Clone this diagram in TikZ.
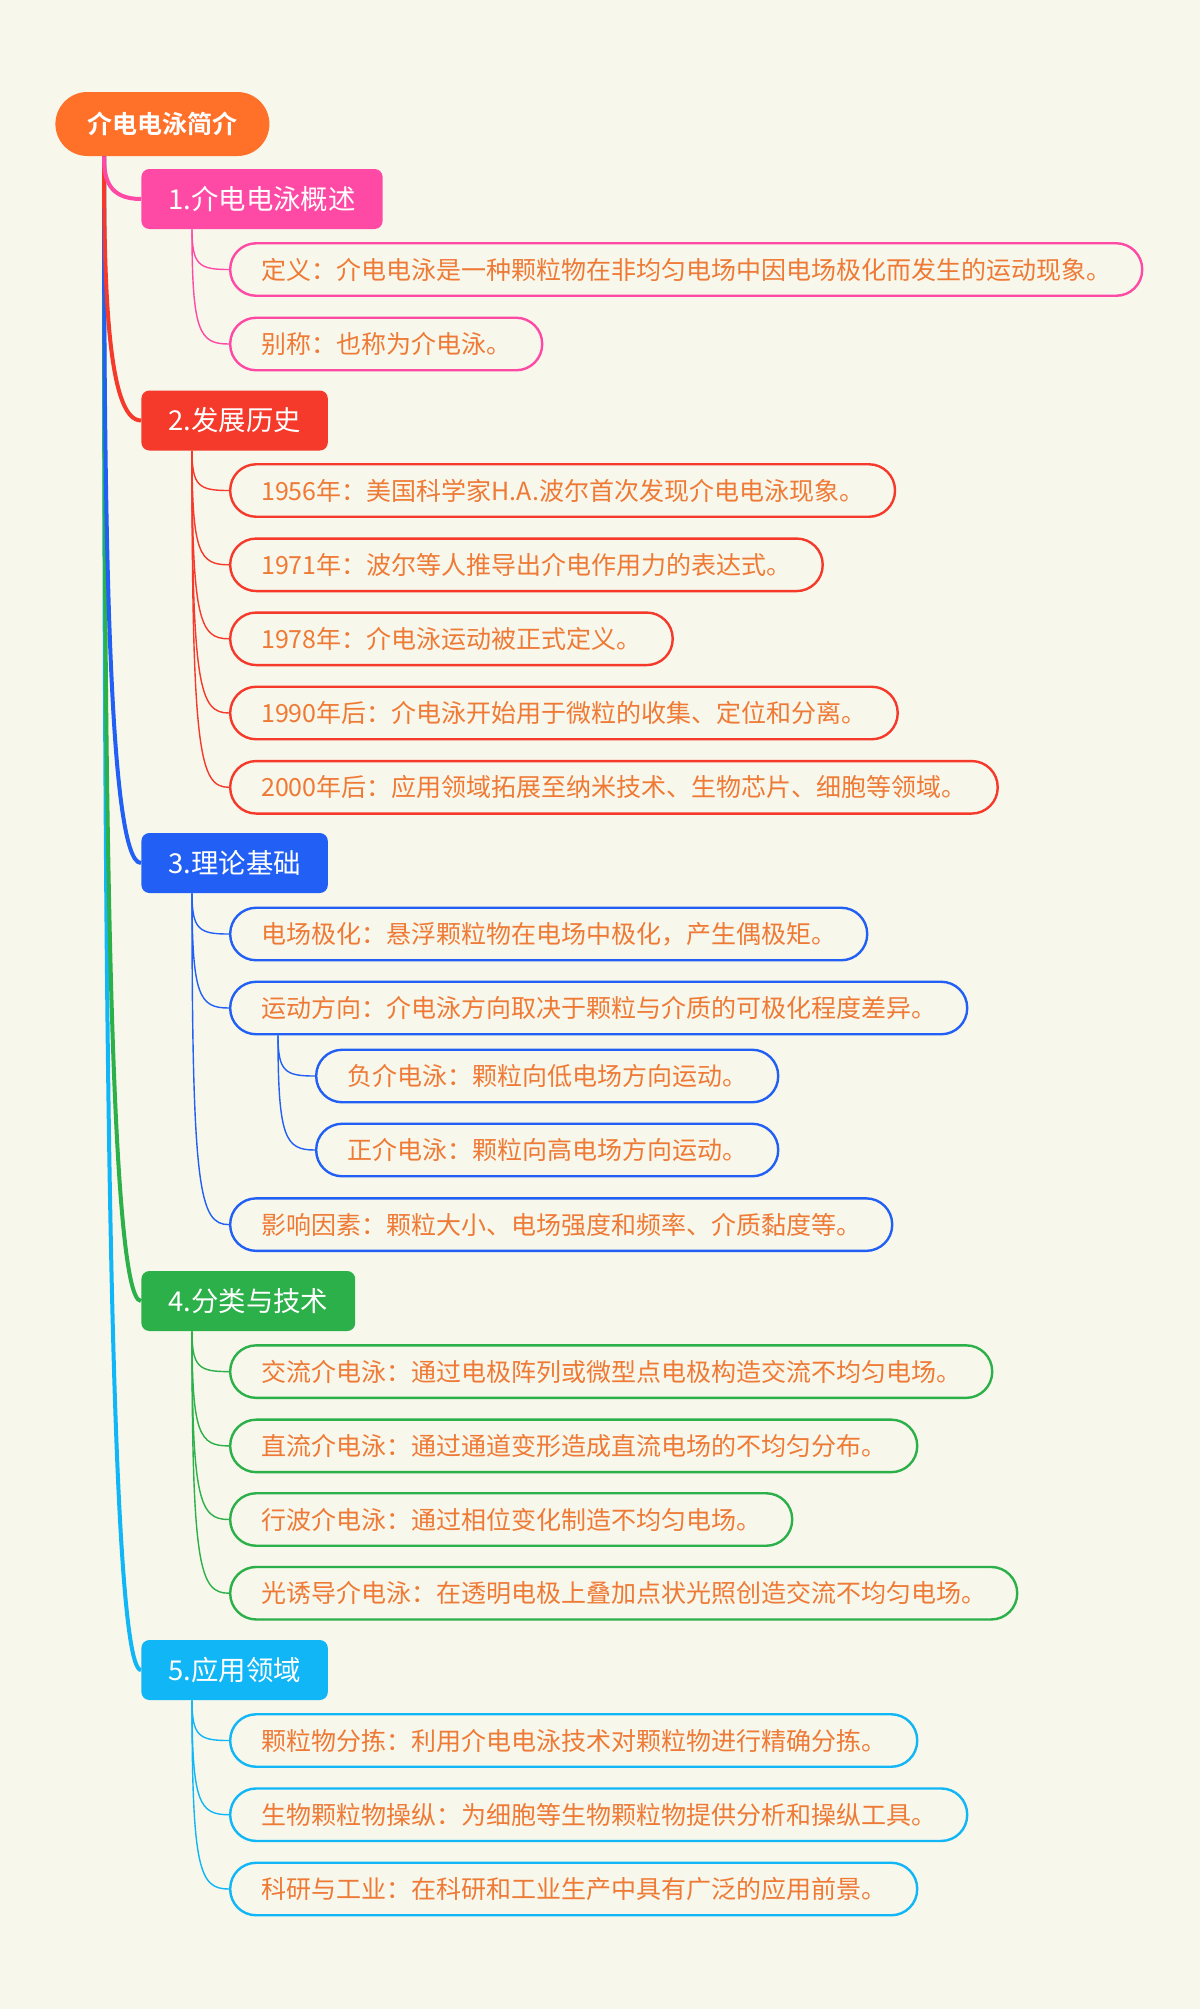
\documentclass[tikz,border=0pt]{standalone}
\usepackage{fontspec}
\setmainfont{Noto Sans CJK SC}[BoldFont={Noto Sans CJK SC Bold}]
\usepackage{xcolor}
\usetikzlibrary{calc}

\definecolor{bgc}{HTML}{F7F7EB}
\definecolor{rootc}{HTML}{FF7029}
\definecolor{pinkc}{HTML}{FF4AA5}
\definecolor{redc}{HTML}{F5392B}
\definecolor{bluec}{HTML}{2260F5}
\definecolor{greenc}{HTML}{2BB04A}
\definecolor{cyanc}{HTML}{10B6F5}
\definecolor{leaftext}{HTML}{EF7A36}

\begin{document}
\begin{tikzpicture}[
  x=0.5pt, y=-0.5pt,
  every node/.style={font=\fontsize{12.5pt}{15pt}\selectfont},
  rootbox/.style={fill=rootc, text=white, rounded corners=16pt,
    minimum height=32pt, inner xsep=16pt, anchor=west,
    font=\fontsize{12.5pt}{15pt}\selectfont\bfseries},
  topicbox/.style={fill=#1, text=white, rounded corners=4pt,
    minimum height=30pt, inner xsep=13.5pt, anchor=west,
    font=\fontsize{13.7pt}{16pt}\selectfont},
  leafbox/.style={draw=#1, line width=1.2pt, fill=bgc, text=leaftext,
    rounded corners=13pt, minimum height=26.25pt, inner xsep=15.5pt, anchor=west},
  branch/.style={draw=#1, line width=2pt},
  twig/.style={draw=#1, line width=0.7pt},
]

%% ── Canvas ────────────────────────────────────────────────────────────────
\fill[bgc] (0,0) rectangle (1200,2009);

%% ── Root and topics ───────────────────────────────────────────────────────
\node[rootbox] (root) at (55,124) {介电电泳简介};

\node[topicbox=pinkc]  (t1) at (141,199)   {1.介电电泳概述};
\node[topicbox=redc]   (t2) at (141,420.5) {2.发展历史};
\node[topicbox=bluec]  (t3) at (141,863)   {3.理论基础};
\node[topicbox=greenc] (t4) at (141,1301)  {4.分类与技术};
\node[topicbox=cyanc]  (t5) at (141,1670)  {5.应用领域};

%% ── 1. overview ───────────────────────────────────────────────────────────
\node[leafbox=pinkc] (l11) at (229,269.5) {定义：介电电泳是一种颗粒物在非均匀电场中因电场极化而发生的运动现象。};
\node[leafbox=pinkc] (l12) at (229,344)   {别称：也称为介电泳。};

%% ── 2. history ────────────────────────────────────────────────────────────
\node[leafbox=redc] (l21) at (229,490.5) {1956年：美国科学家H.A.波尔首次发现介电电泳现象。};
\node[leafbox=redc] (l22) at (229,564.8) {1971年：波尔等人推导出介电作用力的表达式。};
\node[leafbox=redc] (l23) at (229,638.8) {1978年：介电泳运动被正式定义。};
\node[leafbox=redc] (l24) at (229,713)   {1990年后：介电泳开始用于微粒的收集、定位和分离。};
\node[leafbox=redc] (l25) at (229,787.3) {2000年后：应用领域拓展至纳米技术、生物芯片、细胞等领域。};

%% ── 3. theory ─────────────────────────────────────────────────────────────
\node[leafbox=bluec] (l31) at (229,934)    {电场极化：悬浮颗粒物在电场中极化，产生偶极矩。};
\node[leafbox=bluec] (l32) at (229,1008)   {运动方向：介电泳方向取决于颗粒与介质的可极化程度差异。};
\node[leafbox=bluec] (l321) at (315,1076)  {负介电泳：颗粒向低电场方向运动。};
\node[leafbox=bluec] (l322) at (315,1150)  {正介电泳：颗粒向高电场方向运动。};
\node[leafbox=bluec] (l33) at (229,1224.6) {影响因素：颗粒大小、电场强度和频率、介质黏度等。};

%% ── 4. classes ────────────────────────────────────────────────────────────
\node[leafbox=greenc] (l41) at (229,1371.6) {交流介电泳：通过电极阵列或微型点电极构造交流不均匀电场。};
\node[leafbox=greenc] (l42) at (229,1445.9) {直流介电泳：通过通道变形造成直流电场的不均匀分布。};
\node[leafbox=greenc] (l43) at (229,1519.5) {行波介电泳：通过相位变化制造不均匀电场。};
\node[leafbox=greenc] (l44) at (229,1593.2) {光诱导介电泳：在透明电极上叠加点状光照创造交流不均匀电场。};

%% ── 5. applications ───────────────────────────────────────────────────────
\node[leafbox=cyanc] (l51) at (229,1740.5) {颗粒物分拣：利用介电电泳技术对颗粒物进行精确分拣。};
\node[leafbox=cyanc] (l52) at (229,1814.7) {生物颗粒物操纵：为细胞等生物颗粒物提供分析和操纵工具。};
\node[leafbox=cyanc] (l53) at (229,1889)   {科研与工业：在科研和工业生产中具有广泛的应用前景。};

%% ── Connectors ────────────────────────────────────────────────────────────
\coordinate (root-foot) at ([xshift=24.5pt]root.south west);
\foreach \t in {t1,t2,t3,t4,t5}
  \coordinate (\t-foot) at ([xshift=25.5pt]\t.south west);
\coordinate (l32-foot) at ([xshift=24.5pt]l32.south west);

% main branches: lean slowly, bend late
\foreach \t/\c in {t5/cyanc, t4/greenc, t3/bluec, t2/redc, t1/pinkc}
  \draw[branch=\c] (root-foot)
    .. controls ($(root-foot)!0.5!(root-foot|-\t.west)$)
            and ($(root-foot|-\t.west)!0.1!(\t.west)$) .. (\t.west);

% twigs: straight down, then a short bend into the leaf
\foreach \t/\l/\c in {t1/l11/pinkc, t1/l12/pinkc,
    t2/l21/redc, t2/l22/redc, t2/l23/redc, t2/l24/redc, t2/l25/redc,
    t3/l31/bluec, t3/l32/bluec, t3/l33/bluec,
    l32/l321/bluec, l32/l322/bluec,
    t4/l41/greenc, t4/l42/greenc, t4/l43/greenc, t4/l44/greenc,
    t5/l51/cyanc, t5/l52/cyanc, t5/l53/cyanc}
  \draw[twig=\c] (\t-foot)
    .. controls ($(\t-foot)!0.9!(\t-foot|-\l.west)$)
            and ($(\t-foot|-\l.west)!0.2!(\l.west)$) .. (\l.west);

\end{tikzpicture}
\end{document}
